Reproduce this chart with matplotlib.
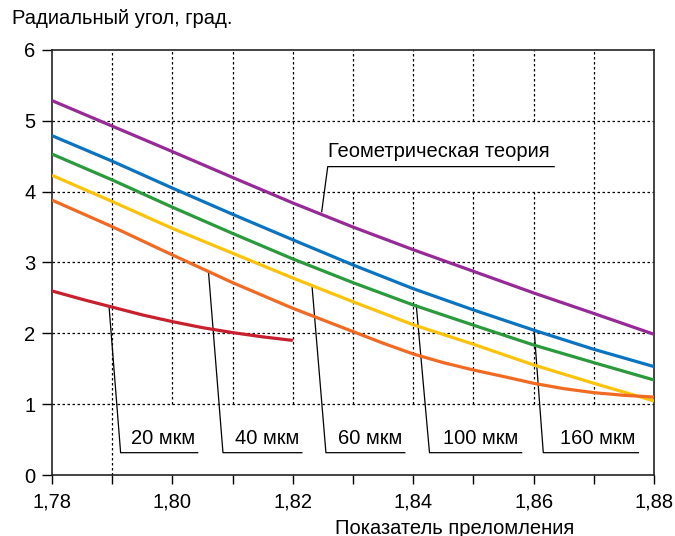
import numpy as np
import matplotlib
matplotlib.use("Agg")
import matplotlib.pyplot as plt

plt.rcParams['font.family'] = ['Liberation Sans', 'DejaVu Sans']

# refractive index (x) and radial angle, deg (y)
n_full = [1.78, 1.79, 1.80, 1.81, 1.82, 1.83, 1.84, 1.85, 1.86, 1.87, 1.88]
geom = [5.285, 4.925, 4.565, 4.20, 3.84, 3.50, 3.18, 2.875, 2.57, 2.28, 1.986]
um160 = [4.79, 4.43, 4.05, 3.68, 3.32, 2.965, 2.63, 2.33, 2.045, 1.774, 1.53]
um100 = [4.53, 4.165, 3.78, 3.41, 3.05, 2.715, 2.40, 2.115, 1.835, 1.586, 1.341]
um60 = [4.23, 3.86, 3.48, 3.13, 2.78, 2.445, 2.12, 1.845, 1.553, 1.294, 1.045]
n_40 = [1.78, 1.79, 1.80, 1.81, 1.82, 1.83, 1.835, 1.84, 1.845, 1.85,
        1.855, 1.86, 1.865, 1.87, 1.875, 1.88]
um40 = [3.88, 3.505, 3.106, 2.715, 2.353, 2.024, 1.86, 1.708, 1.586, 1.482,
        1.39, 1.294, 1.219, 1.162, 1.125, 1.10]
n_20 = [1.78, 1.785, 1.79, 1.795, 1.80, 1.805, 1.81, 1.815, 1.82]
um20 = [2.598, 2.48, 2.37, 2.26, 2.165, 2.08, 2.01, 1.95, 1.90]

curves = [
    (n_full, geom, '#962a96'),
    (n_full, um160, '#0a74c0'),
    (n_full, um100, '#2a9a3c'),
    (n_full, um60, '#fdc30a'),
    (n_40, um40, '#f26a22'),
    (n_20, um20, '#c8202e'),
]

fig = plt.figure(figsize=(6.75, 5.36), dpi=100)
ax = fig.add_axes([0.077, 0.1138, 0.892, 0.793])

# dotted grid, broken behind the labels
gs = dict(color='black', lw=0.9, linestyle=(0, (2, 2)), zorder=1)
for y in [1, 2, 3, 4, 5]:
    ax.hlines(y, 1.78, 1.88, **gs)
ax.vlines(1.79, 0, 6, **gs)
for x in [1.80, 1.81, 1.82, 1.87]:
    ax.vlines(x, 1, 6, **gs)
for x in [1.83, 1.84, 1.85, 1.86]:
    ax.vlines(x, 1, 4, **gs)
    ax.vlines(x, 5, 6, **gs)

for xs, ys, c in curves:
    ax.plot(xs, ys, color=c, lw=2.3, zorder=3, solid_capstyle='butt',
            solid_joinstyle='round')

# leader lines and labels
fs = 14.5
lk = dict(color='black', lw=0.9, zorder=2)
ax.plot([1.8248, 1.8258, 1.8634], [3.717, 4.353, 4.353], **lk)
ax.text(1.8259, 4.56, 'Геометрическая теория', fontsize=fs, va='center', ha='left')

leaders = [
    ((1.7895, 2.354), 1.7914, 1.8042, '20 мкм'),
    ((1.8060, 2.862), 1.8084, 1.8215, '40 мкм'),
    ((1.8232, 2.659), 1.8255, 1.8386, '60 мкм'),
    ((1.8405, 2.400), 1.8427, 1.8580, '100 мкм'),
    ((1.8601, 2.020), 1.8616, 1.8774, '160 мкм'),
]
for (x0, y0), x1, x2, lab in leaders:
    ax.plot([x0, x1, x2], [y0, 0.315, 0.315], **lk)
    ax.text(x2 - 0.0005, 0.52, lab, fontsize=fs, va='center', ha='right')

ax.set_xlim(1.78, 1.88)
ax.set_ylim(0, 6)
ax.set_xticks([1.78, 1.80, 1.82, 1.84, 1.86, 1.88])
ax.set_xticklabels(['1,78', '1,80', '1,82', '1,84', '1,86', '1,88'])
ax.set_xticks([1.79, 1.81, 1.83, 1.85, 1.87], minor=True)
ax.set_yticks([0, 1, 2, 3, 4, 5, 6])
ax.tick_params(axis='both', which='both', direction='out', length=7, width=1,
               labelsize=fs)
ax.tick_params(axis='x', which='both', length=6.5, pad=6)
ax.tick_params(axis='y', pad=5)

for s in ax.spines.values():
    s.set_linewidth(1.2)
    s.set_color('#222222')

fig.text(12 / 675, 1 - 18 / 536, 'Радиальный угол, град.', fontsize=fs,
         ha='left', va='center')
fig.text(455 / 675, 8 / 536, 'Показатель преломления', fontsize=fs,
         ha='center', va='center')

fig.savefig('out.png', dpi=100)
